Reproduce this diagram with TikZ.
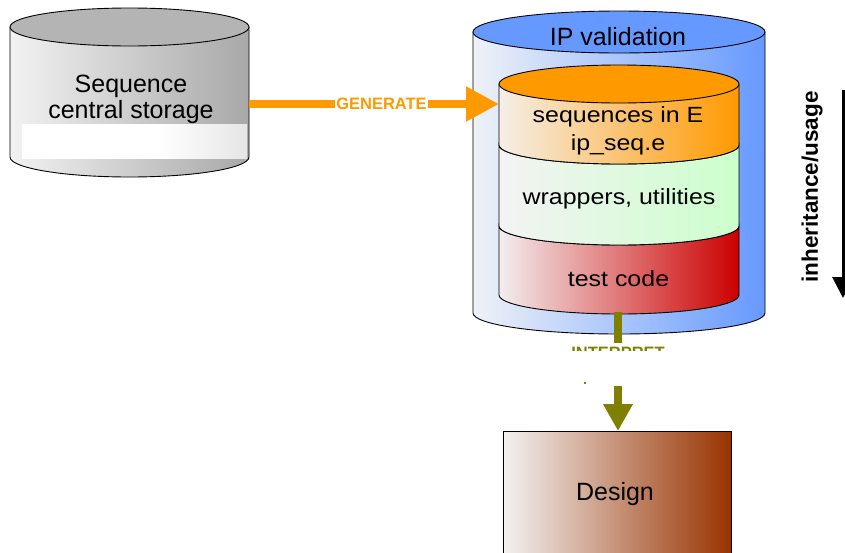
\documentclass[tikz,border=0pt]{standalone}
\usepackage{fontspec}
\usepackage{graphicx}
\setmainfont{Liberation Sans}
\usetikzlibrary{arrows.meta}

\definecolor{genorange}{HTML}{FF9900}
\definecolor{interpolive}{HTML}{808000}
\definecolor{ipblue}{HTML}{6699FF}
\definecolor{bluepale}{HTML}{EFF2F7}
\definecolor{storegray}{HTML}{A8A8A8}
\definecolor{storetop}{HTML}{B4B4B4}
\definecolor{storepale}{HTML}{F2F2F2}
\definecolor{seqpale}{HTML}{F5EFE8}
\definecolor{wrapgreen}{HTML}{CCFFCC}
\definecolor{wrappale}{HTML}{F3F3F3}
\definecolor{testred}{HTML}{CC0000}
\definecolor{testpale}{HTML}{F3EEEF}
\definecolor{designbrown}{HTML}{993300}
\definecolor{designpale}{HTML}{F3F2F2}

\pgfdeclarehorizontalshading{labelfade}{100bp}{%
  rgb(0bp)=(1,1,1); rgb(55bp)=(1,1,1); rgb(100bp)=(0.78,0.78,0.78)}

% layer labels inside the inner cylinder are set slightly wide
\newcommand{\widetext}[1]{\scalebox{1.135}[1]{#1}}

\begin{document}
\begin{tikzpicture}[x=1pt,y=-1pt,
  outline/.style={draw=black,line width=0.9pt},
  bodytext/.style={font=\fontsize{25}{26}\selectfont,text=black,inner sep=0pt,align=center},
  layertext/.style={font=\fontsize{22}{28}\selectfont,text=black,inner sep=0pt,align=center},
  flowlabel/.style={font=\bfseries\fontsize{16.5}{18}\selectfont,inner sep=1pt},
  genarrow/.style={draw=genorange,line width=8pt,-{Triangle[length=33pt,width=33pt]}},
  interpline/.style={draw=interpolive,line width=8pt},
  interparrow/.style={interpline,-{Triangle[length=27pt,width=28pt]}}]

\useasboundingbox (0,0) rectangle (845,552);
\clip (0,0) rectangle (845,552);

% ---- sequence central storage (grey cylinder) ----
\path[outline,left color=storepale,right color=storegray]
  (10,27) -- (10,157) arc[start angle=180,end angle=360,x radius=119.5pt,y radius=20pt]
  -- (249,27) -- cycle;
\path[outline,fill=storetop] (129.5,27) ellipse[x radius=119.5pt,y radius=19pt];
\node[bodytext] (store) at (131,99.5) {Sequence\\central storage};
\path[shading=labelfade] (22,124.5) rectangle (247,158);

% ---- IP validation (outer blue cylinder) ----
\path[outline,left color=bluepale,right color=ipblue]
  (473,32) -- (473,313) arc[start angle=180,end angle=360,x radius=146pt,y radius=21pt]
  -- (765,32) -- cycle;
\path[outline,fill=ipblue] (619,32) ellipse[x radius=146pt,y radius=21pt];
\node[bodytext,anchor=base] (ipval) at (618,45) {IP validation};

% ---- inner cylinder, three stacked layers ----
\path[outline,left color=testpale,right color=testred]
  (499,226) -- (499,295) arc[start angle=180,end angle=360,x radius=120pt,y radius=19pt]
  -- (739,226) arc[start angle=0,end angle=-180,x radius=120pt,y radius=19pt] -- cycle;
\path[outline,left color=wrappale,right color=wrapgreen]
  (499,145) -- (499,226) arc[start angle=180,end angle=360,x radius=120pt,y radius=19pt]
  -- (739,145) arc[start angle=0,end angle=-180,x radius=120pt,y radius=19pt] -- cycle;
\path[outline,left color=seqpale,right color=genorange]
  (499,84) -- (499,145) arc[start angle=180,end angle=360,x radius=120pt,y radius=19pt]
  -- (739,84) -- cycle;
\path[outline,fill=genorange] (619,84) ellipse[x radius=120pt,y radius=19pt];

\node[layertext] (seqe) at (618,130.5) {\widetext{sequences in E}\\\widetext{ip\_seq.e}};
\node[layertext,anchor=base] (wrap) at (619,204) {\widetext{wrappers, utilities}};
\node[layertext,anchor=base] (test) at (618.5,286.5) {\widetext{test code}};

% ---- design block ----
\path[outline,left color=designpale,right color=designbrown]
  (503,431) rectangle (731,570);
\node[bodytext,anchor=base] (design) at (615,500) {Design};

% ---- GENERATE connector ----
\coordinate (store-e) at (249,104);
\coordinate (seq-w) at (499,104);
\draw[genarrow] (store-e) -- node[pos=0.53,flowlabel,fill=white,text=genorange] (gen) {GENERATE} (seq-w);

% ---- INTERPRET connector ----
\coordinate (test-s) at (618,312);
\coordinate (gap-top) at (618,343);
\coordinate (gap-bot) at (618,386);
\coordinate (design-n) at (618,431);
\draw[interpline] (test-s) -- (gap-top);
\begin{scope}
  \clip (560,346.3) rectangle (680,350.3);
  \node[flowlabel,text=interpolive,anchor=base] (interp) at (618,358.8) {INTERPRET};
\end{scope}
\fill[interpolive] (584,382) rectangle (586,384);
\draw[interparrow] (gap-bot) -- (design-n);

% ---- inheritance/usage direction ----
\coordinate (flow-top) at (843,90);
\coordinate (flow-bot) at (843,298);
\draw[line width=3pt,-{Triangle[length=21pt,width=21pt]}] (flow-top) -- (flow-bot);
\node[font=\bfseries\fontsize{22.5}{24}\selectfont,rotate=90,inner sep=0pt] (inh) at (812,187)
  {inheritance/usage};

\end{tikzpicture}
\end{document}
